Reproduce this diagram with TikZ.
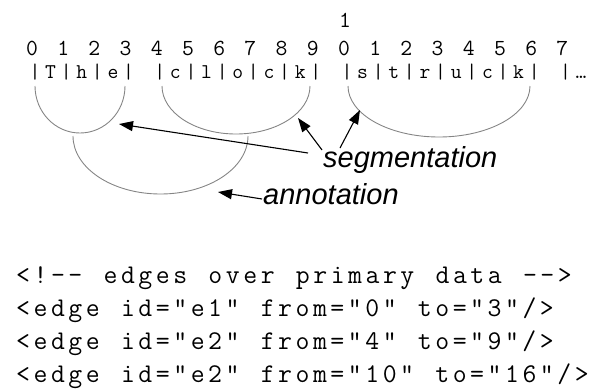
\documentclass[tikz,border=0pt]{standalone}
\usepackage{fontspec}
\newfontfamily\labelfont{Liberation Sans}
\newfontfamily\codefont{Latin Modern Mono}[LetterSpace=13.06]
\usetikzlibrary{arrows.meta}
\newcommand{\kspc}{\hspace*{21.225pt}}
\begin{document}
\begin{tikzpicture}[x=1pt,y=-1pt,
  digit/.style={inner sep=0pt,anchor=base,font=\fontsize{23}{23}\ttfamily},
  chr/.style={inner sep=0pt,anchor=base,font=\fontsize{21}{21}\ttfamily},
  code/.style={inner sep=0pt,anchor=base west,font=\fontsize{27}{27}\codefont},
  lbl/.style={inner sep=0pt,anchor=base west,font=\fontsize{29}{29}\labelfont\itshape},
  seg/.style={draw=black!48,line width=0.9pt},
  ptr/.style={draw=black,line width=1.1pt,-{Triangle[length=14pt,width=10pt]}}]
\useasboundingbox (0,0) rectangle (599,389);
% offsets
\node[digit] (top1) at (345,27) {1};
\foreach \d [count=\j from 0] in {0,1,2,3,4,5,6,7,8,9,0,1,2,3,4,5,6,7}
  \node[digit] (dg\j) at ({32+31.2*\j},55) {\d};
% characters
\foreach \c/\i in {|/0,T/1,|/2,h/3,|/4,e/5,|/6,|/8,c/9,|/10,l/11,|/12,o/13,|/14,c/15,|/16,k/17,|/18,|/20,s/21,|/22,t/23,|/24,r/25,|/26,u/27,|/28,c/29,|/30,k/31,|/32,|/34,…/35}
  \node[chr] (ch\i) at ({35+15.6*\i},78) {\c};
% segment arcs
\coordinate (a1) at (35,86);
\coordinate (a2) at (162,86);
\coordinate (a3) at (348,86);
\coordinate (a4) at (73,136);
\draw[seg] (a1) arc[start angle=180,end angle=360,x radius=45pt,y radius=47pt];
\draw[seg] (a2) arc[start angle=180,end angle=360,x radius=74pt,y radius=48pt];
\draw[seg] (a3) arc[start angle=180,end angle=360,x radius=91pt,y radius=51pt];
\draw[seg] (a4) arc[start angle=180,end angle=360,x radius=87.5pt,y radius=58pt];
% labels
\node[lbl] (segl) at (323,167) {segmentation};
\node[lbl] (annl) at (263,204) {annotation};
% arrows
\coordinate (s1) at (308,153);
\coordinate (s2) at (322,150);
\coordinate (s3) at (340,148);
\coordinate (s4) at (262,199);
\coordinate (t1) at (119,124);
\coordinate (t2) at (298,118);
\coordinate (t3) at (360,110);
\coordinate (t4) at (218,192);
\draw[ptr] (s1) -- (t1);
\draw[ptr] (s2) -- (t2);
\draw[ptr] (s3) -- (t3);
\draw[ptr] (s4) -- (t4);
% code
\node[code] (c1) at (16,283) {<!-{}-\kspc edges\kspc over\kspc primary\kspc data\kspc -{}->};
\node[code] (c2) at (16,316) {<edge\kspc id="e1"\kspc from="0"\kspc to="3"/>};
\node[code] (c3) at (16,349) {<edge\kspc id="e2"\kspc from="4"\kspc to="9"/>};
\node[code] (c4) at (16,382) {<edge\kspc id="e2"\kspc from="10"\kspc to="16"/>};
\end{tikzpicture}
\end{document}
